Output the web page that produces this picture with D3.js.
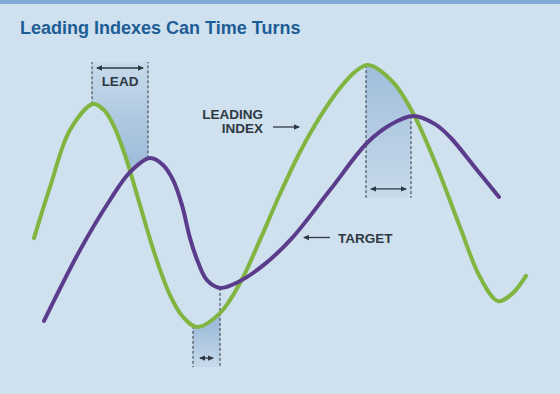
<!DOCTYPE html>
<html>
<head>
<meta charset="utf-8">
<script src="https://cdn.jsdelivr.net/npm/d3@7"></script>
<style>
body { margin: 0; background: #cfe0ee; }
svg { display: block; font-family: "Liberation Sans", Arial, sans-serif; }
</style>
</head>
<body>
<div id="chart"></div>
<script>
// leading index curve (time, value)
var leadTime  = [0.8, 4, 8, 12.6, 14.6, 16.6, 19, 22, 25, 28, 30.6, 33.4, 38, 42, 46, 50, 54, 58, 62, 65, 67.6, 72.6, 76.6, 81.4, 86, 90, 93.6, 96.4, 99.2];
var leadValue = [37.3, 54.3, 73.3, 82, 80.3, 75.3, 65, 48.3, 31.7, 18.3, 11, 7.7, 12.3, 22.3, 36.7, 52, 66, 77.7, 87.3, 92.7, 95, 89.3, 79, 61, 41, 24.3, 16.3, 18.7, 24.7];
// target curve
var targetTime  = [2.8, 10, 16, 20, 24, 26.6, 28.6, 30.4, 32, 33.6, 35.4, 38, 42, 47, 52.4, 60, 67.4, 72, 76.6, 81, 84, 89.4, 93.8];
var targetValue = [9.7, 33.3, 50, 59.3, 64, 61.7, 56.7, 48.3, 37.3, 29.3, 23.3, 20.7, 23, 28.7, 37.3, 53.3, 69, 75, 78, 75.3, 71, 60, 51];
// lead bands between turning points
var bandStart = [12.4, 32.6, 67.2];
var bandEnd   = [23.6, 38, 76.2];
var bandEdge  = [96, -5.7, 50.7];
var bandSide  = ["above", "below", "below"];
var bandLabel = ["LEAD", "", ""];

var width = 560, height = 394;
var ink = "#2e3943";

var lead = leadTime.map(function (t, i) { return {t: t, v: leadValue[i]}; });
var target = targetTime.map(function (t, i) { return {t: t, v: targetValue[i]}; });

var x = d3.scaleLinear().domain([0, 100]).range([30, 530]);
var y = d3.scaleLinear().domain([0, 100]).range([350, 50]);
var curve = d3.curveCatmullRom.alpha(0.5);

var svg = d3.select("#chart").append("svg")
    .attr("width", width)
    .attr("height", height);

svg.append("rect").attr("width", width).attr("height", height).attr("fill", "#cfe0ee");
svg.append("rect").attr("width", width).attr("height", 4).attr("fill", "#7eabd6");

svg.append("text")
    .attr("x", 20).attr("y", 34)
    .attr("fill", "#1d5d96")
    .attr("font-size", 18)
    .attr("font-weight", "bold")
    .text("Leading Indexes Can Time Turns");

var defs = svg.append("defs");

// arrow heads
defs.append("marker")
    .attr("id", "head")
    .attr("viewBox", "0 0 6 6")
    .attr("refX", 5).attr("refY", 3)
    .attr("markerWidth", 6).attr("markerHeight", 6)
    .attr("markerUnits", "userSpaceOnUse")
    .attr("orient", "auto-start-reverse")
    .append("path")
    .attr("d", "M0,0.3L6,3L0,5.7z")
    .attr("fill", ink);

var line = d3.line()
    .x(function (d) { return x(d.t); })
    .y(function (d) { return y(d.v); })
    .curve(curve);

function areaAbove() {
    return d3.area().x(function (d) { return x(d.t); })
        .y0(0).y1(function (d) { return y(d.v); })
        .curve(curve);
}
function areaBelow() {
    return d3.area().x(function (d) { return x(d.t); })
        .y0(function (d) { return y(d.v); }).y1(height)
        .curve(curve);
}

defs.append("clipPath").attr("id", "aboveLead").append("path").attr("d", areaAbove()(lead));
defs.append("clipPath").attr("id", "aboveTarget").append("path").attr("d", areaAbove()(target));
defs.append("clipPath").attr("id", "belowLead").append("path").attr("d", areaBelow()(lead));

var bandLayer = svg.append("g");
var lineLayer = svg.append("g");

var leadPath = lineLayer.append("path")
    .datum(lead)
    .attr("fill", "none")
    .attr("stroke", "#80b541")
    .attr("stroke-width", 4)
    .attr("stroke-linecap", "round")
    .attr("d", line);

var targetPath = lineLayer.append("path")
    .datum(target)
    .attr("fill", "none")
    .attr("stroke", "#5b3c8c")
    .attr("stroke-width", 4)
    .attr("stroke-linecap", "round")
    .attr("d", line);

// y of a drawn curve at a pixel x
function yAt(node, px) {
    var lo = 0, hi = node.getTotalLength();
    for (var i = 0; i < 40; i++) {
        var mid = (lo + hi) / 2;
        if (node.getPointAtLength(mid).x < px) lo = mid; else hi = mid;
    }
    return node.getPointAtLength(lo).y;
}

bandStart.forEach(function (t0, i) {
    var x0 = x(t0), x1 = x(bandEnd[i]), edge = y(bandEdge[i]);
    var yLeft = yAt(leadPath.node(), x0);
    var yRight = yAt(targetPath.node(), x1);
    var above = bandSide[i] === "above";
    var near = above ? yRight : yLeft;

    var grad = defs.append("linearGradient")
        .attr("id", "shade" + i)
        .attr("gradientUnits", "userSpaceOnUse")
        .attr("x1", 0).attr("x2", 0)
        .attr("y1", near).attr("y2", edge);
    grad.append("stop").attr("offset", 0).attr("stop-color", "#9dbbd9").attr("stop-opacity", 0.95);
    grad.append("stop").attr("offset", 1).attr("stop-color", "#9dbbd9").attr("stop-opacity", 0.15);

    var top = above ? edge : 0;
    var bottom = above ? height : edge;
    if (above) {
        bandLayer.append("g")
            .attr("clip-path", "url(#aboveLead)")
            .append("rect")
            .attr("clip-path", "url(#aboveTarget)")
            .attr("x", x0).attr("y", top)
            .attr("width", x1 - x0).attr("height", bottom - top)
            .attr("fill", "url(#shade" + i + ")");
    } else {
        bandLayer.append("rect")
            .attr("clip-path", "url(#belowLead)")
            .attr("x", x0).attr("y", top)
            .attr("width", x1 - x0).attr("height", bottom - top)
            .attr("fill", "url(#shade" + i + ")");
    }

    // dashed guides
    [[x0, yLeft], [x1, yRight]].forEach(function (p) {
        bandLayer.append("line")
            .attr("x1", p[0]).attr("x2", p[0])
            .attr("y1", p[1]).attr("y2", edge)
            .attr("stroke", ink)
            .attr("stroke-width", 1)
            .attr("stroke-dasharray", "3,2");
    });

    // double arrow
    var ay = above ? edge + 6 : edge - 9;
    var inset = (x1 - x0) < 40 ? 7 : 5;
    svg.append("line")
        .attr("x1", x0 + inset).attr("x2", x1 - inset)
        .attr("y1", ay).attr("y2", ay)
        .attr("stroke", ink).attr("stroke-width", 1.3)
        .attr("marker-start", "url(#head)")
        .attr("marker-end", "url(#head)");

    if (bandLabel[i]) {
        svg.append("text")
            .attr("x", (x0 + x1) / 2).attr("y", edge + 24)
            .attr("text-anchor", "middle")
            .attr("fill", ink)
            .attr("font-size", 13.5)
            .attr("font-weight", "bold")
            .text(bandLabel[i]);
    }
});

// series labels
var labels = svg.append("g")
    .attr("fill", ink)
    .attr("font-size", 13.5)
    .attr("font-weight", "bold");
labels.append("text").attr("x", 263).attr("y", 119).attr("text-anchor", "end").text("LEADING");
labels.append("text").attr("x", 263).attr("y", 133).attr("text-anchor", "end").text("INDEX");
labels.append("text").attr("x", 338).attr("y", 243).text("TARGET");

svg.append("line")
    .attr("x1", 273).attr("x2", 299).attr("y1", 127).attr("y2", 127)
    .attr("stroke", ink).attr("stroke-width", 1.3)
    .attr("marker-end", "url(#head)");
svg.append("line")
    .attr("x1", 304).attr("x2", 330).attr("y1", 237.5).attr("y2", 237.5)
    .attr("stroke", ink).attr("stroke-width", 1.3)
    .attr("marker-start", "url(#head)");
</script>
</body>
</html>
